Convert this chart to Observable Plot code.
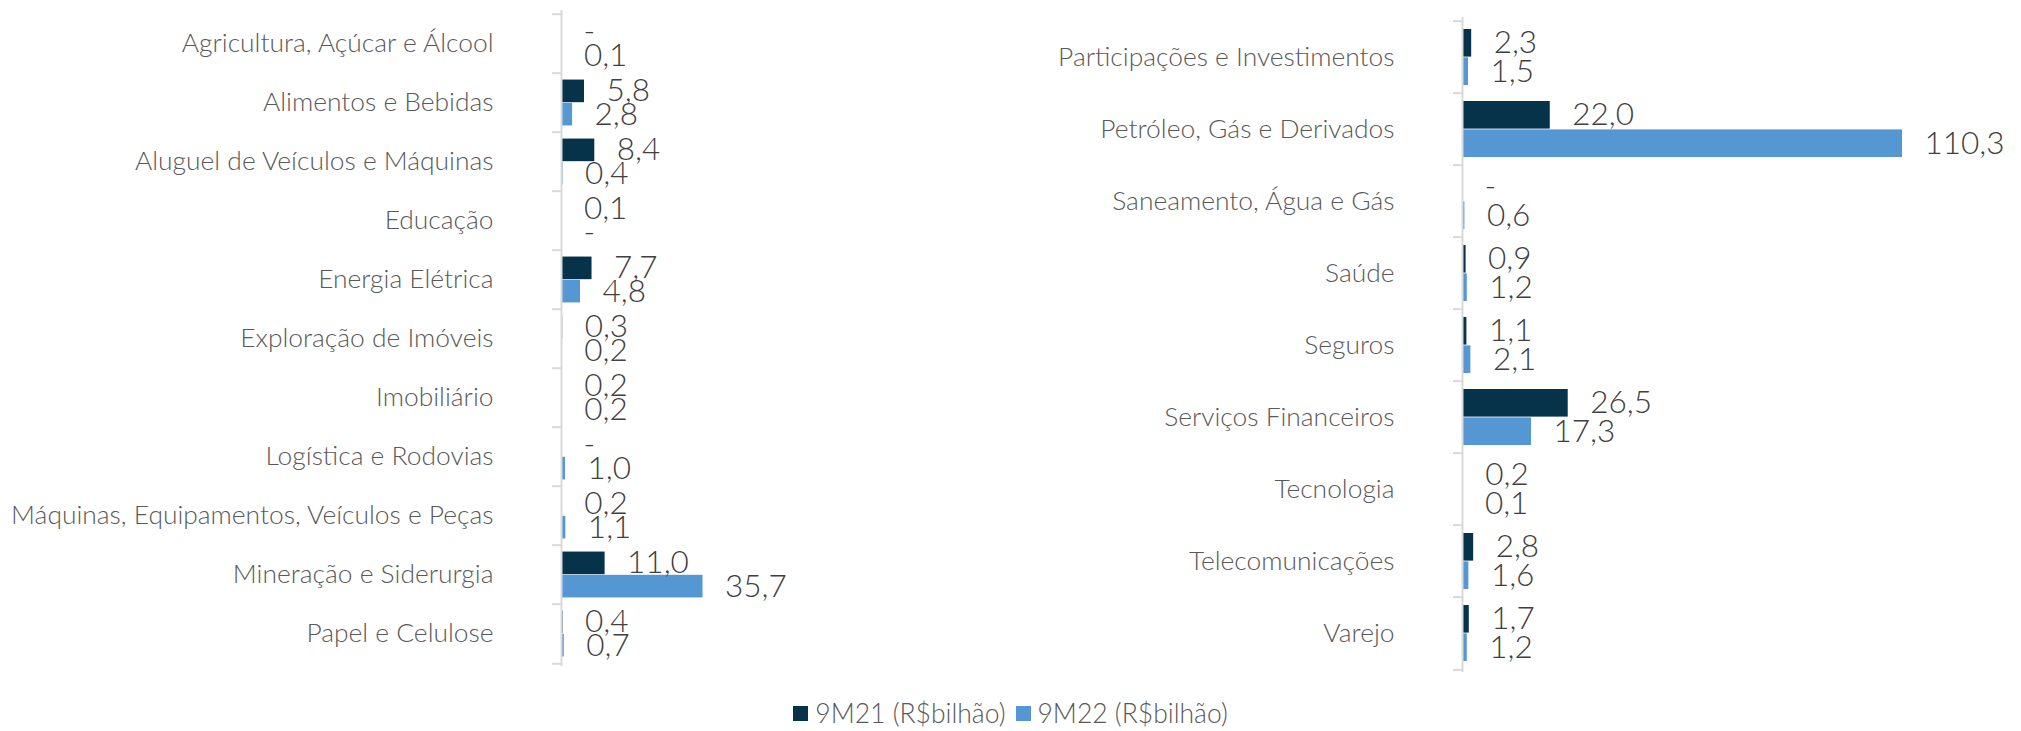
<!DOCTYPE html>
<html>
<head>
<meta charset="utf-8">
<script src="https://cdn.jsdelivr.net/npm/d3@7"></script>
<script src="https://cdn.jsdelivr.net/npm/@observablehq/plot@0.6"></script>
<style>
  html, body { margin: 0; padding: 0; background: #ffffff; }
  #wrap { position: relative; width: 2021px; height: 731px; overflow: hidden; background: #fff; font-family: Lato, sans-serif; }
  #left { position: absolute; left: 0; top: 0; }
  #right { position: absolute; left: 1000px; top: 0; }
  #legend { position: absolute; left: 0; top: 698px; width: 2021px; height: 30px; line-height: 30px; display: flex; justify-content: center; align-items: center; font-family: Lato, sans-serif; font-weight: 300; font-size: 26.5px; color: #595959; }
  #legend .item { display: flex; align-items: center; margin: 0 5px; line-height: 30px; }
  #legend .sw { width: 15px; height: 15px; margin-right: 7px; }
  svg { max-width: none !important; }
</style>
</head>
<body>
<div id="wrap">
  <div id="left"></div>
  <div id="right"></div>
  <div id="legend"></div>
</div>
<script>
const seriesNames = ["9M21 (R$bilhão)", "9M22 (R$bilhão)"];
const seriesColors = ["#06324A", "#5497D3"];

const leftCats = ["Agricultura, Açúcar e Álcool", "Alimentos e Bebidas", "Aluguel de Veículos e Máquinas", "Educação", "Energia Elétrica", "Exploração de Imóveis", "Imobiliário", "Logística e Rodovias", "Máquinas, Equipamentos, Veículos e Peças", "Mineração e Siderurgia", "Papel e Celulose"];
const left9M21 = [0, 5.8, 8.4, 0.1, 7.7, 0.3, 0.2, 0, 0.2, 11.0, 0.4];
const left9M22 = [0.1, 2.8, 0.4, 0, 4.8, 0.2, 0.2, 1.0, 1.1, 35.7, 0.7];

const rightCats = ["Participações e Investimentos", "Petróleo, Gás e Derivados", "Saneamento, Água e Gás", "Saúde", "Seguros", "Serviços Financeiros", "Tecnologia", "Telecomunicações", "Varejo"];
const right9M21 = [2.3, 22.0, 0, 0.9, 1.1, 26.5, 0.2, 2.8, 1.7];
const right9M22 = [1.5, 110.3, 0.6, 1.2, 2.1, 17.3, 0.1, 1.6, 1.2];

const fmt = v => v === 0 ? "-" : v.toFixed(1).replace(".", ",");

function panel(cats, a, b, o) {
  const rows = cats.map((c, i) => ({cat: c, a: a[i], b: b[i]}));
  const bw = (o.height - o.marginTop - o.marginBottom) / cats.length;
  const pad = 0.11 * bw, bar = 0.39 * bw;
  const axisStyle = {stroke: "#D9D9D9", strokeWidth: 2};
  const labelStyle = {textAnchor: "start", fill: "#404040", fontSize: 31.5, fontWeight: 300, dx: 22};
  return Plot.plot({
    width: o.width,
    height: o.height,
    marginLeft: o.marginLeft,
    marginRight: o.marginRight,
    marginTop: o.marginTop,
    marginBottom: o.marginBottom,
    style: {fontFamily: "Lato", fontWeight: 300, fontSize: "26.4px", color: "#595959", background: "transparent", overflow: "visible"},
    x: {domain: o.xDomain, axis: null},
    y: {domain: cats, padding: 0, label: null, tickSize: 0, tickPadding: 68},
    marks: [
      Plot.barX(rows, {y: "cat", x: "a", fill: seriesColors[0], insetTop: pad, insetBottom: bw - pad - bar}),
      Plot.barX(rows, {y: "cat", x: "b", fill: seriesColors[1], insetTop: pad + bar, insetBottom: bw - pad - 2 * bar}),
      Plot.ruleX([0], {...axisStyle}),
      Plot.ruleY(cats, {y: d => d, x1: 0, x2: 0, insetLeft: -9, dy: -bw / 2, ...axisStyle}),
      Plot.ruleY(cats.slice(-1), {y: d => d, x1: 0, x2: 0, insetLeft: -9, dy: bw / 2, ...axisStyle}),
      Plot.text(rows, {y: "cat", x: "a", text: d => fmt(d.a), dy: (pad + bar / 2) - bw / 2, ...labelStyle}),
      Plot.text(rows, {y: "cat", x: "b", text: d => fmt(d.b), dy: (pad + 1.5 * bar) - bw / 2, ...labelStyle})
    ]
  });
}

document.getElementById("left").appendChild(panel(leftCats, left9M21, left9M22, {
  width: 1000, height: 680, marginLeft: 561, marginRight: 42.6, marginTop: 10, marginBottom: 14, xDomain: [0, 100]
}));
document.getElementById("right").appendChild(panel(rightCats, right9M21, right9M22, {
  width: 1021, height: 680, marginLeft: 462, marginRight: 80.3, marginTop: 17, marginBottom: 8, xDomain: [0, 120]
}));

const legend = document.getElementById("legend");
seriesNames.forEach((n, i) => {
  const it = document.createElement("div");
  it.className = "item";
  const sw = document.createElement("span");
  sw.className = "sw";
  sw.style.background = seriesColors[i];
  const tx = document.createElement("span");
  tx.textContent = n;
  it.appendChild(sw); it.appendChild(tx);
  legend.appendChild(it);
});
</script>
</body>
</html>
